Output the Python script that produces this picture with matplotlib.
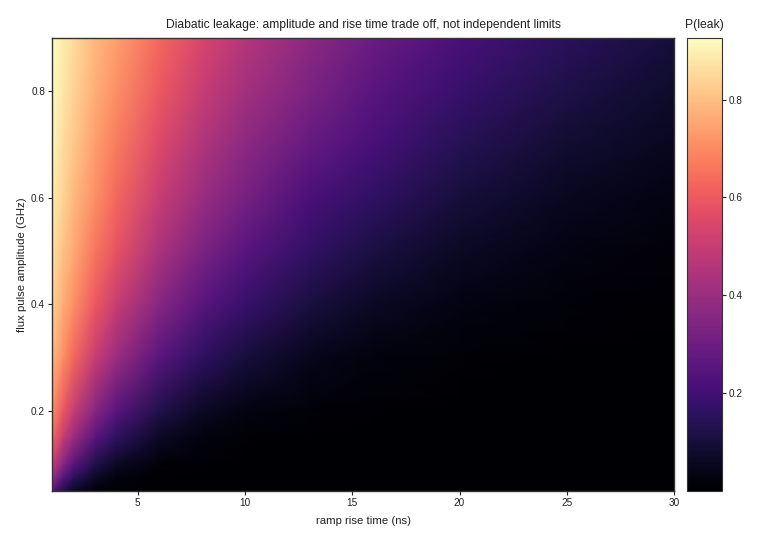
import matplotlib
matplotlib.use("Agg")
import matplotlib.pyplot as plt
import numpy as np

plt.rcParams['font.family'] = ['Liberation Sans', 'DejaVu Sans']

# ramp rise time (ns) grid nodes
rise_time = [1, 1.5, 2, 3, 4, 6, 8, 10, 13, 16, 20, 25, 30]
# flux pulse amplitude (GHz) grid nodes
amplitude = [0.05, 0.075, 0.1, 0.15, 0.2, 0.3, 0.4, 0.5, 0.6, 0.7, 0.8, 0.9]

# leakage probability (rows = amplitude, cols = rise time)
p_a005 = [0.25, 0.126, 0.063, 0.016, 0.004, 0, 0, 0, 0, 0, 0, 0, 0]
p_a0075 = [0.40, 0.25, 0.159, 0.063, 0.025, 0.004, 0.001, 0, 0, 0, 0, 0, 0]
p_a010 = [0.50, 0.355, 0.25, 0.126, 0.063, 0.016, 0.004, 0.001, 0, 0, 0, 0, 0]
p_a015 = [0.63, 0.50, 0.40, 0.25, 0.159, 0.063, 0.025, 0.010, 0.003, 0.001, 0, 0, 0]
p_a020 = [0.71, 0.60, 0.50, 0.355, 0.25, 0.126, 0.063, 0.032, 0.011, 0.004, 0.001, 0, 0]
p_a030 = [0.79, 0.71, 0.63, 0.50, 0.40, 0.25, 0.159, 0.10, 0.050, 0.025, 0.010, 0.003, 0.001]
p_a040 = [0.84, 0.77, 0.71, 0.60, 0.50, 0.355, 0.25, 0.18, 0.106, 0.063, 0.032, 0.013, 0.006]
p_a050 = [0.87, 0.81, 0.76, 0.66, 0.58, 0.44, 0.33, 0.25, 0.166, 0.11, 0.063, 0.032, 0.016]
p_a060 = [0.89, 0.84, 0.79, 0.71, 0.63, 0.50, 0.40, 0.32, 0.22, 0.16, 0.10, 0.056, 0.032]
p_a070 = [0.91, 0.86, 0.82, 0.74, 0.67, 0.55, 0.45, 0.37, 0.28, 0.21, 0.14, 0.085, 0.052]
p_a080 = [0.92, 0.88, 0.84, 0.77, 0.71, 0.60, 0.50, 0.42, 0.33, 0.25, 0.18, 0.116, 0.075]
p_a090 = [0.926, 0.89, 0.86, 0.79, 0.74, 0.63, 0.54, 0.46, 0.37, 0.29, 0.22, 0.15, 0.10]

p_leak = np.array([p_a005, p_a0075, p_a010, p_a015, p_a020, p_a030,
                   p_a040, p_a050, p_a060, p_a070, p_a080, p_a090])

cbar_ticks = [0.2, 0.4, 0.6, 0.8]
x_ticks = [5, 10, 15, 20, 25, 30]
y_ticks = [0.2, 0.4, 0.6, 0.8]

fig = plt.figure(figsize=(7.6, 5.4), dpi=100)
ax = fig.add_axes([52 / 760, 49 / 540, 622 / 760, 453 / 540])
cax = fig.add_axes([687 / 760, 49 / 540, 35 / 760, 453 / 540])

mesh = ax.pcolormesh(rise_time, amplitude, p_leak, cmap='magma',
                     shading='gouraud', vmin=0.0, vmax=0.926,
                     rasterized=True)
ax.set_xlim(1, 30)
ax.set_ylim(0.05, 0.9)
ax.set_xticks(x_ticks)
ax.set_yticks(y_ticks)
ax.tick_params(axis='both', labelsize=7.2, length=3, width=0.8,
               colors='#222222', pad=2)
for sp in ax.spines.values():
    sp.set_color('#333333')
    sp.set_linewidth(1.0)

ax.set_xlabel('ramp rise time (ns)', fontsize=8.2, color='#222222', labelpad=6)
ax.set_ylabel('flux pulse amplitude (GHz)', fontsize=8.2, color='#222222', labelpad=3)
ax.set_title('Diabatic leakage: amplitude and rise time trade off, not independent limits',
             fontsize=8.7, color='#222222', pad=7)

cb = fig.colorbar(mesh, cax=cax, ticks=cbar_ticks)
cb.ax.tick_params(labelsize=7.2, length=3, width=0.8, colors='#222222', pad=2)
cb.outline.set_edgecolor('#333333')
cb.outline.set_linewidth(0.8)
cax.set_title('P(leak)', fontsize=8.7, color='#222222', pad=7)

fig.savefig('out.png', dpi=100)
